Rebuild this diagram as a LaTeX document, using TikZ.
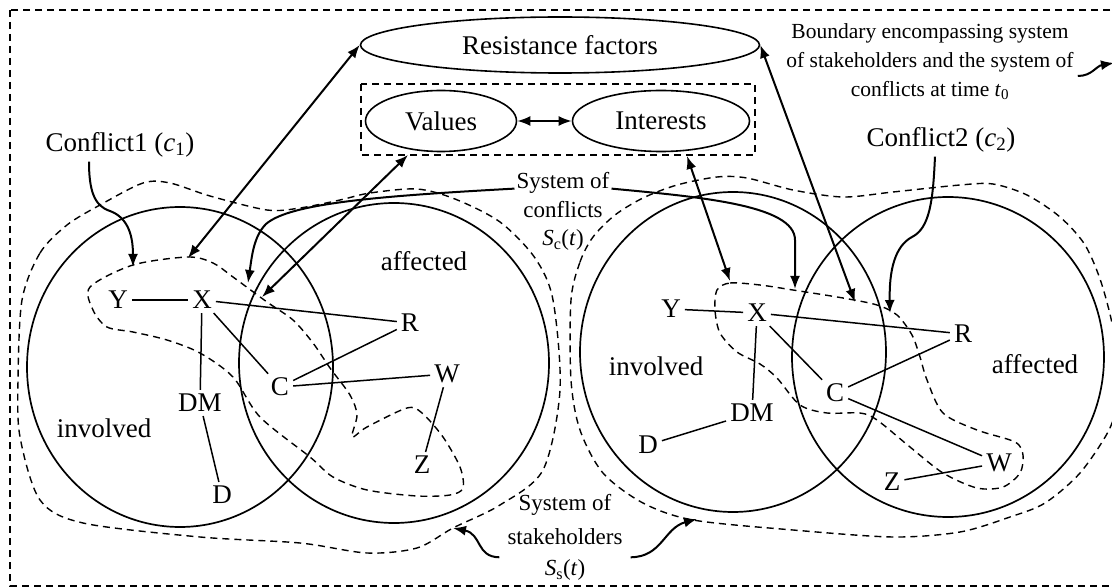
\documentclass[tikz,border=0pt]{standalone}
\usepackage{fontspec}
\setmainfont{Liberation Serif}
\usetikzlibrary{arrows.meta,positioning,shapes.geometric}

\tikzset{
  tag/.style={font=\fontsize{27}{30}\selectfont, inner sep=4pt},
  note/.style={font=\fontsize{23}{28}\selectfont, inner sep=2pt},
  oval/.style={draw, ellipse, line width=1.6pt, inner sep=0pt, font=\fontsize{27}{30}\selectfont},
  ring/.style={line width=1.7pt},
  zone/.style={line width=1.4pt, dash pattern=on 7pt off 5pt},
  tie/.style={line width=1.5pt},
  twoway/.style={{Latex[length=13pt,width=10pt]}-{Latex[length=13pt,width=10pt]}, line width=2pt},
  pointer/.style={-{Latex[length=13pt,width=10pt]}, line width=2pt},
}

\begin{document}
\begin{tikzpicture}[x=1pt,y=-1pt]
\useasboundingbox (0,0) rectangle (1112,588);
\clip (0,0) rectangle (1112,588);
% outer boundary at time t0
\draw[zone] (10,10) rectangle (1130,586);

% resistance factors, values and interests
\node[oval, minimum width=399, minimum height=56] (res) at (560,45) {Resistance factors};
\draw[zone] (361,84) rectangle (755,155);
\node[oval, minimum width=151, minimum height=61] (val) at (441,121) {Values};
\node[oval, minimum width=177, minimum height=61] (int) at (661,121) {Interests};
\draw[twoway] (val) -- (int);

% involved / affected circles
\draw[ring] (180,367) ellipse [x radius=153, y radius=160];
\draw[ring] (394,363) ellipse [x radius=155, y radius=160];
\draw[ring] (733,352) ellipse [x radius=153, y radius=160];
\draw[ring] (948,357) ellipse [x radius=156, y radius=160];

% systems of stakeholders
\draw[zone] plot[smooth cycle, tension=0.5] coordinates {(22,300) (40,253) (67,225) (100,205) (143,183) (170,183) (210,196) (267,210) (300,208) (340,200) (370,193) (417,189) (455,199) (500,222) (535,258) (553,300) (560,390) (543,470) (500,505) (453,528) (417,548) (367,553) (300,543) (200,537) (83,523) (40,500) (20,437) (18,380)};
\draw[zone] plot[smooth cycle, tension=0.5] coordinates {(571,300) (580,262) (593,237) (615,215) (643,198) (677,185) (717,177) (747,178) (793,190) (843,197) (893,192) (960,185) (993,184) (1027,195) (1060,217) (1085,245) (1102,285) (1115,340) (1116,400) (1109,430) (1080,473) (1045,503) (1010,517) (960,532) (893,537) (793,530) (693,520) (643,503) (603,473) (580,430) (571,380)};

% systems of conflicts
\draw[zone] plot[smooth cycle, tension=0.5] coordinates {(133,265) (188,257) (213,263) (233,277) (267,302) (293,320) (313,343) (330,368) (350,395) (357,415) (352,437) (367,427) (407,408) (422,413) (443,437) (460,467) (463,488) (450,495) (417,496) (367,490) (333,477) (310,457) (260,417) (233,377) (200,353) (167,340) (133,332) (107,327) (93,310) (90,287)};
\draw[zone] plot[smooth cycle, tension=0.5] coordinates {(717,290) (730,283) (760,285) (793,290) (843,298) (877,305) (897,315) (912,335) (920,357) (927,380) (943,413) (977,430) (1015,442) (1023,455) (1020,473) (1003,487) (977,488) (943,473) (910,447) (877,420) (860,413) (827,413) (800,405) (777,378) (760,364) (737,352) (720,333) (715,310)};

% circle labels
\node[tag] (inv1) at (104,428) {involved};
\node[tag] (aff1) at (424,261) {affected};
\node[tag] (inv2) at (656,366) {involved};
\node[tag] (aff2) at (1035,364) {affected};

% stakeholders of conflict 1
\node[tag] (y1) at (118,300) {Y};
\node[tag] (x1) at (202,300) {X};
\node[tag] (r1) at (410,323) {R};
\node[tag] (c1) at (280,387) {C};
\node[tag] (w1) at (447,374) {W};
\node[tag] (dm1) at (200,403) {DM};
\node[tag] (d1) at (222,495) {D};
\node[tag] (z1) at (422,465) {Z};
% stakeholders of conflict 2
\node[tag] (y2) at (671,309) {Y};
\node[tag] (x2) at (757,313) {X};
\node[tag] (r2) at (963,334) {R};
\node[tag] (c2) at (835,393) {C};
\node[tag] (dm2) at (752,413) {DM};
\node[tag] (d2) at (648,445) {D};
\node[tag] (w2) at (999,463) {W};
\node[tag] (z2) at (892,482) {Z};

\foreach \a/\b in {y1/x1,x1/r1,x1/c1,x1/dm1,c1/r1,c1/w1,w1/z1,dm1/d1,
                   y2/x2,x2/r2,x2/c2,x2/dm2,c2/r2,c2/w2,d2/dm2,z2/w2}
  \draw[tie] (\a) -- (\b);

% captions
\node[tag] (cf1) at (120,145) {Conflict1 (\textit{c}\textsubscript{1})};
\node[tag] (cf2) at (941,140) {Conflict2 (\textit{c}\textsubscript{2})};
\node[note] (sc1) at (563,183) {System of};
\node[note] (sc2) at (563,210) {conflicts};
\node[note] (sc3) at (563,240) {\textit{S}\textsubscript{c}(\textit{t})};
\node[note] (ss1) at (565,505) {System of};
\node[note] (ss2) at (565,537) {stakeholders};
\node[note] (ss3) at (565,570) {\textit{S}\textsubscript{s}(\textit{t})};
\node[note, font=\fontsize{21.5}{29}\selectfont, align=center] (bnd) at (930,62) {Boundary encompassing system\\of stakeholders and the system of\\conflicts at time \textit{t}\textsubscript{0}};

% arrow ends
\coordinate (tipc1) at (133,267);
\coordinate (tipc2) at (890,313);
\coordinate (tipsl) at (248,283);
\coordinate (tipsr) at (795,289);
\coordinate (tipres1) at (188,258);
\coordinate (tipres2) at (855,302);
\coordinate (tipval) at (408,155);
\coordinate (tipvx) at (262,297);
\coordinate (tipint) at (687,156);
\coordinate (tipix) at (730,281);
\coordinate (tipstl) at (453,528);
\coordinate (tipstr) at (697,519);
\coordinate (tipbnd) at (1114,63);

\draw[twoway] (res.west) -- (tipres1);
\draw[twoway] (res.east) -- (tipres2);
\draw[twoway] (tipval) -- (tipvx);
\draw[twoway] (tipint) -- (tipix);

\draw[pointer] ([xshift=-31pt]cf1.south) .. controls (89,190) and (94,206) .. (110,211) .. controls (126,217) and (133,232) .. (tipc1);
\draw[pointer] ([xshift=-6pt]cf2.south) .. controls (933,200) and (930,228) .. (912,237) .. controls (895,246) and (889,270) .. (tipc2);
\draw[pointer] (sc1.base west) .. controls (380,196) and (290,203) .. (266,224) .. controls (254,236) and (252,255) .. (tipsl);
\draw[pointer] (sc1.base east) .. controls (700,197) and (795,205) .. (795,240) -- (tipsr);
\draw[pointer] ([xshift=-6pt,yshift=-10pt]ss2.south west) .. controls (476,557) and (482,534) .. (tipstl);
\draw[pointer] ([xshift=6pt,yshift=-10pt]ss2.south east) .. controls (662,557) and (664,528) .. (tipstr);
\draw[pointer] ([xshift=2pt,yshift=-14pt]bnd.east) .. controls (1092,76) and (1096,66) .. (tipbnd);
\end{tikzpicture}
\end{document}
